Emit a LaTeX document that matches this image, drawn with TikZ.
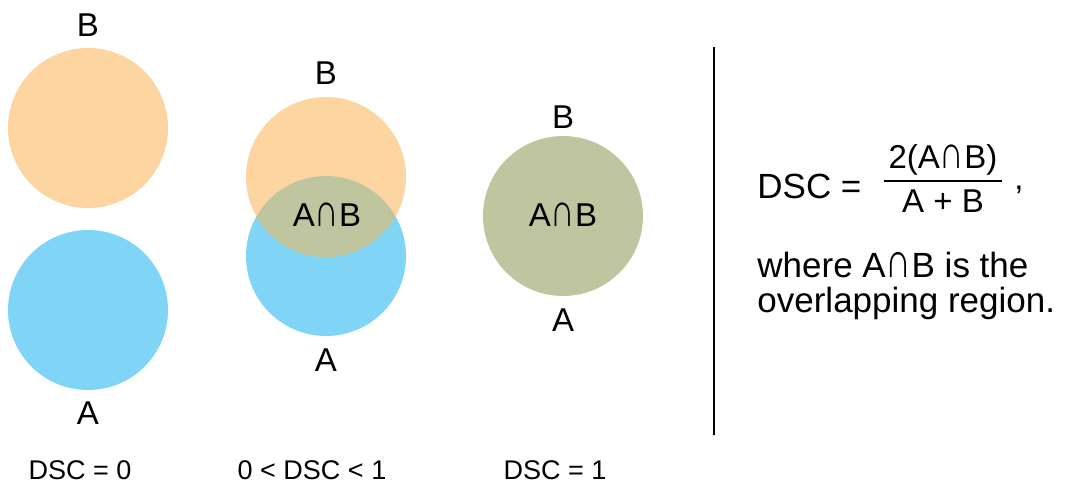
\documentclass[tikz,border=0pt]{standalone}
\usepackage{fontspec}
\setmainfont{Liberation Sans}
\usetikzlibrary{positioning}
\definecolor{setB}{HTML}{FDD5A0}
\definecolor{setA}{HTML}{80D4F5}
\definecolor{setAB}{HTML}{BFC59F}
\newcommand{\capsym}{\resizebox{0.74em}{0.716em}{∩}}

\begin{document}
\begin{tikzpicture}[x=0.5pt, y=-0.5pt,
    venn/.style={circle, inner sep=0pt, minimum size=80pt},
    lbl/.style={inner sep=0pt, font=\fontsize{16.5}{19}\selectfont},
    note/.style={inner sep=0pt, anchor=west, font=\fontsize{17.5}{21}\selectfont},
    score/.style={inner sep=0pt, font=\fontsize{13.5}{16}\selectfont}]
    \useasboundingbox (0,0) rectangle (1066,487);

    % DSC = 0
    \node[venn, fill=setB] (b0) at (88,128) {};
    \node[venn, fill=setA] (a0) at (88,310) {};
    \node[lbl] (lb0) at (88,25) {B};
    \node[lbl] (la0) at (88,413) {A};
    \node[score] (s0) at (80,470) {DSC = 0};

    % 0 < DSC < 1
    \node[venn, fill=setA] (a1) at (326,256) {};
    \node[venn, fill=setB] (b1) at (326,177) {};
    \begin{scope}
        \clip (326,256) circle (80);
        \fill[setAB] (326,177) circle (80);
    \end{scope}
    \node[lbl] (ab1) at (327,215) {A\capsym B};
    \node[lbl] (lb1) at (326,73) {B};
    \node[lbl] (la1) at (326,360) {A};
    \node[score] (s1) at (312,470) {0 < DSC < 1};

    % DSC = 1
    \node[venn, fill=setAB] (ab2c) at (563,216) {};
    \node[lbl] (ab2) at (563,215) {A\capsym B};
    \node[lbl] (lb2) at (563,117) {B};
    \node[lbl] (la2) at (563,320) {A};
    \node[score] (s2) at (555,470) {DSC = 1};

    \draw[line width=0.6pt] (714,47) -- (714,435);

    % formula
    \node[note] (dsc) at (757,186) {DSC =};
    \node[lbl] (num) at (943,160) {2(A\capsym B)};
    \node[lbl] (den) at (943,201) {A + B};
    \coordinate (barL) at (884,181);
    \coordinate (barR) at (1002,181);
    \draw[line width=1pt] (barL) -- (barR);
    \node[lbl] (comma) at (1019,190) {,};
    \node[note] (where) at (757,265) {where A\capsym B is the};
    \node[note] (region) at (757,303) {overlapping region.};
\end{tikzpicture}
\end{document}
